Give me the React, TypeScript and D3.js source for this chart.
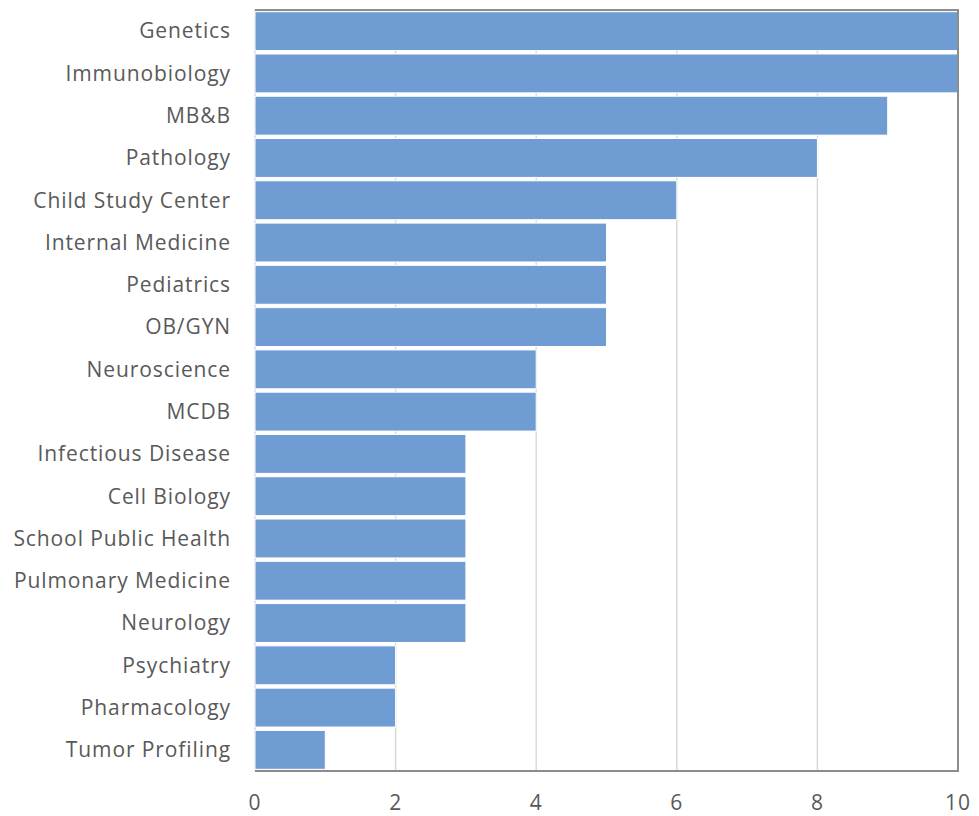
import React from "react";
import * as d3 from "d3";

const categories: string[] = [
  "Genetics",
  "Immunobiology",
  "MB&B",
  "Pathology",
  "Child Study Center",
  "Internal Medicine",
  "Pediatrics",
  "OB/GYN",
  "Neuroscience",
  "MCDB",
  "Infectious Disease",
  "Cell Biology",
  "School Public Health",
  "Pulmonary Medicine",
  "Neurology",
  "Psychiatry",
  "Pharmacology",
  "Tumor Profiling",
];
const values: number[] = [10, 10, 9, 8, 6, 5, 5, 5, 4, 4, 3, 3, 3, 3, 3, 2, 2, 1];
const xTicks: number[] = [0, 2, 4, 6, 8, 10];

const App = (): React.JSX.Element => {
  const width = 979;
  const height = 816;
  const marginLeft = 255;
  const marginRight = 21;
  const marginTop = 10;
  const marginBottom = 45;

  const x = d3.scaleLinear([0, 10], [marginLeft, width - marginRight]);
  const y = d3.scaleBand(categories, [marginTop, height - marginBottom]).paddingInner(0.08).paddingOuter(0.04);
  const font = "Open Sans, sans-serif";

  return (
    <svg width={width} height={height} style={{ position: "absolute", left: 0, top: 0, background: "#fff" }}>
      <g stroke="#d9d9d9" strokeWidth="1.5">
        {xTicks.map((t) => (
          <line key={t} x1={x(t)} x2={x(t)} y1={marginTop} y2={height - marginBottom} />
        ))}
      </g>
      <g fill="#709cd4" stroke="#fff" strokeWidth="1">
        {values.map((v, i) => (
          <rect key={i} x={x(0)} y={y(categories[i])} width={x(v) - x(0)} height={y.bandwidth()} />
        ))}
      </g>
      <path
        d={`M${x(0)},${marginTop}H${x(10)}V${height - marginBottom}H${x(0)}`}
        fill="none"
        stroke="#8c8c8c"
        strokeWidth="2"
      />
      <g fill="#595959" fontFamily={font} fontSize="21" letterSpacing="0.9" textAnchor="end">
        {categories.map((c) => (
          <text key={c} x={marginLeft - 24} y={(y(c) as number) + y.bandwidth() / 2} dy="0.35em">
            {c}
          </text>
        ))}
      </g>
      <g fill="#595959" fontFamily={font} fontSize="21" letterSpacing="0.9" textAnchor="middle">
        {xTicks.map((t) => (
          <text key={t} x={x(t)} y={803} dy="0.35em">
            {t}
          </text>
        ))}
      </g>
    </svg>
  );
};

export default App;
